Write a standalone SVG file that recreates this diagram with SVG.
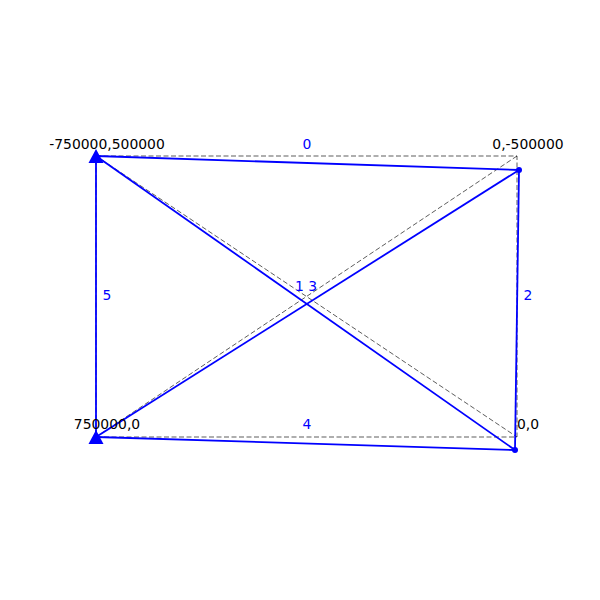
<svg xmlns="http://www.w3.org/2000/svg" width="600" height="600" viewBox="0 0 600 600">
<style>
.ref{stroke:#000;stroke-width:0.8;stroke-dasharray:5,2.5;fill:none;opacity:0.8}
.edge{stroke:#0000ff;stroke-width:1.8;fill:none}
.el{font-family:"DejaVu Sans",sans-serif;font-size:13.9px;fill:#0000ff;text-anchor:middle}
.nl{font-family:"DejaVu Sans",sans-serif;font-size:13.9px;fill:#000}
.tri{fill:#0000ff}
.dot{fill:#0000ff}
</style>
<rect width="600" height="600" fill="#fff"/>
<g id="reference">
<polygon class="ref" points="96,156 517,156 517,437 96,437"/>
<line class="ref" x1="96" y1="156" x2="517" y2="437"/>
<line class="ref" x1="517" y1="156" x2="96" y2="437"/>
</g>
<g id="connectors">
<line class="edge" x1="96" y1="156" x2="519" y2="170"/>
<line class="edge" x1="519" y1="170" x2="515" y2="450"/>
<line class="edge" x1="96" y1="437" x2="515" y2="450"/>
<line class="edge" x1="96" y1="156" x2="96" y2="437"/>
<line class="edge" x1="96" y1="437" x2="519" y2="170"/>
<line class="edge" x1="96" y1="156" x2="515" y2="450"/>
<text class="el" x="307" y="149">0</text>
<text class="el" x="528" y="300">2</text>
<text class="el" x="307" y="429">4</text>
<text class="el" x="107" y="300">5</text>
<text class="el" x="306" y="291">1 3</text>
</g>
<g id="n0">
<polygon class="tri" points="96,149 88.5,163 103.5,163"/>
<text class="nl" x="107" y="149" text-anchor="middle">-750000,500000</text>
</g>
<g id="n1">
<circle class="dot" cx="519" cy="170" r="3"/>
<text class="nl" x="528" y="149" text-anchor="middle">0,-500000</text>
</g>
<g id="n2">
<circle class="dot" cx="515" cy="450" r="3"/>
<text class="nl" x="517" y="429">0,0</text>
</g>
<g id="n3">
<polygon class="tri" points="96,430 88.5,444 103.5,444"/>
<text class="nl" x="107" y="429" text-anchor="middle">750000,0</text>
</g>
</svg>
